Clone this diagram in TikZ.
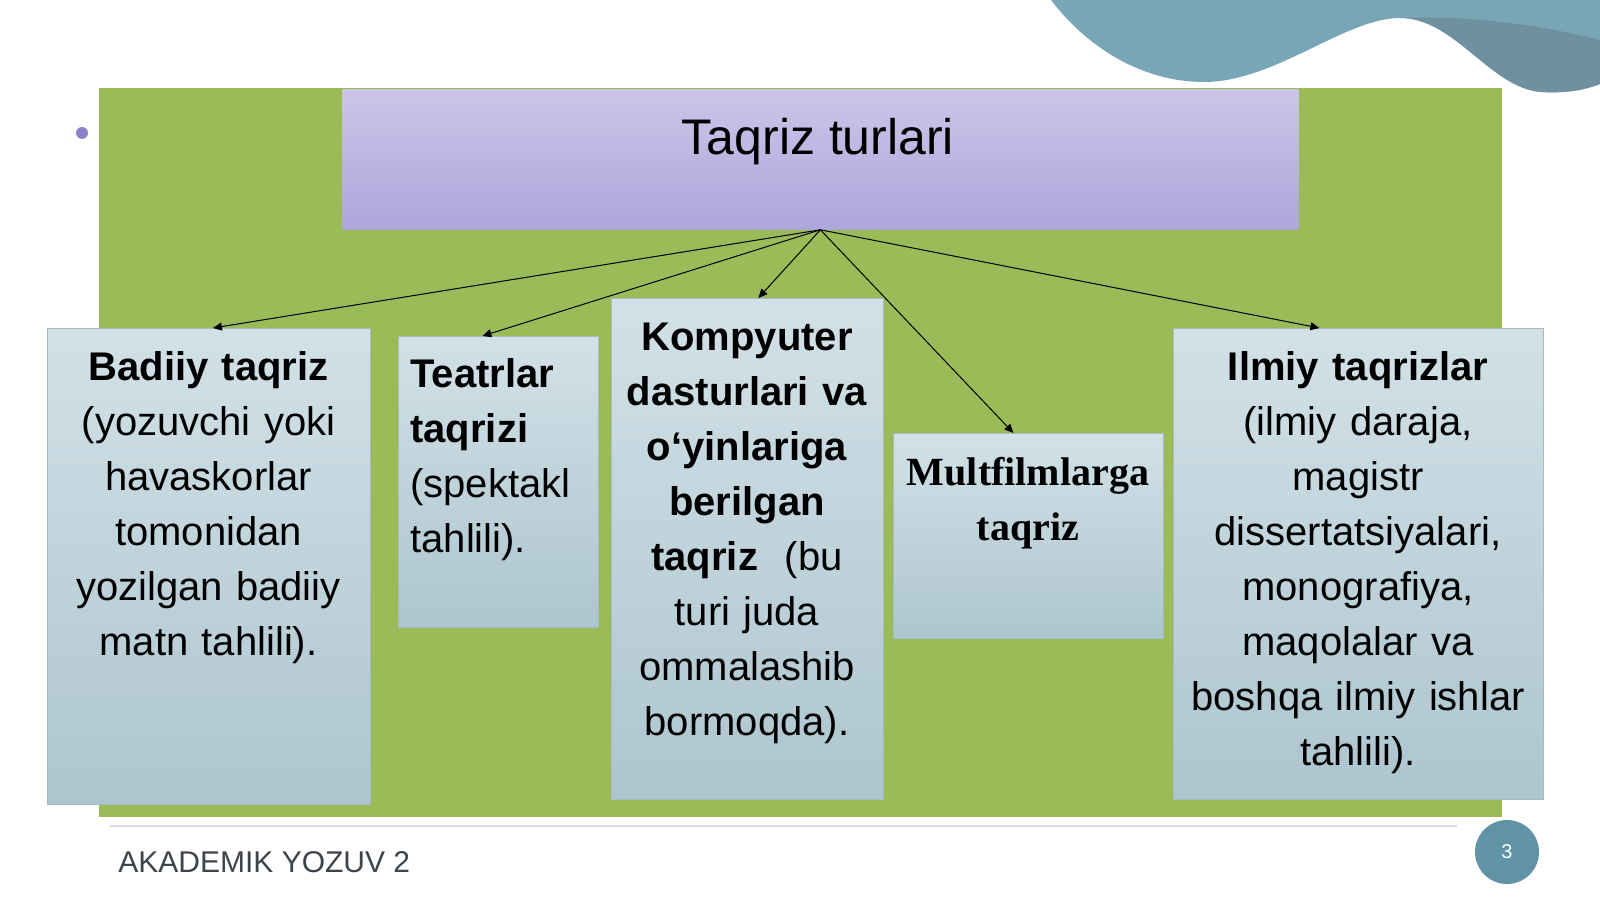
\documentclass[tikz,border=0pt]{standalone}
\usepackage{fontspec}
\setmainfont{Liberation Sans}
\newfontfamily\timesbf{Liberation Serif}[BoldFont={* Bold}]
\usetikzlibrary{arrows.meta}

\definecolor{slidegreen}{RGB}{155,187,89}
\definecolor{lavtop}{RGB}{204,197,232}
\definecolor{lavbot}{RGB}{172,166,220}
\definecolor{paletop}{RGB}{210,225,231}
\definecolor{palebot}{RGB}{173,197,207}
\definecolor{paleedge}{RGB}{165,186,195}
\definecolor{blobblue}{RGB}{120,166,182}
\definecolor{blobdark}{RGB}{108,137,150}
\definecolor{footgray}{RGB}{62,68,76}
\definecolor{bulletpurple}{RGB}{143,130,204}
\definecolor{pageblue}{RGB}{96,147,166}

\begin{document}
\begin{tikzpicture}[x=0.5pt,y=-0.5pt,
  titlebox/.style={rectangle, anchor=north west, inner sep=0pt, top color=lavtop, bottom color=lavbot},
  typebox/.style={rectangle, anchor=north west, inner sep=0pt, draw=paleedge, line width=0.4pt,
    top color=paletop, bottom color=palebot},
  typetext/.style={anchor=base, inner sep=0pt, align=center,
    font=\fontsize{20pt}{27.5pt}\selectfont},
  tipline/.style={-{Triangle[length=4.5pt,width=4pt]}, line width=0.5pt}]

\useasboundingbox (0,0) rectangle (1600,899);
\fill[white] (0,0) rectangle (1600,899);

% wave in the corner
\fill[blobblue] (1051,0) .. controls (1085,45) and (1140,82) .. (1204,82)
  .. controls (1275,82) and (1345,18) .. (1400,18)
  .. controls (1455,18) and (1490,88) .. (1541,92)
  .. controls (1570,94) and (1590,88) .. (1600,84) -- (1600,0) -- cycle;
\fill[blobdark, opacity=0.7] (1400,18) .. controls (1455,18) and (1490,88) .. (1541,92)
  .. controls (1570,94) and (1590,88) .. (1600,84) -- (1600,40)
  .. controls (1540,25) and (1470,15) .. (1400,18) -- cycle;

% background of the chart
\fill[slidegreen] (99,88) rectangle (1502,817);
\fill[bulletpurple] (82,133) circle (6);

% nodes
\node[titlebox, minimum width=478pt, minimum height=70pt] (title) at (342,89) {};
\node[anchor=base, inner sep=0pt, font=\fontsize{25pt}{30pt}\selectfont] (titletxt) at (818,155) {Taqriz turlari};

\node[typebox, minimum width=161.5pt, minimum height=238pt] (badiiy) at (47,328) {};
\node[typebox, minimum width=100pt, minimum height=145.5pt] (teatr) at (398,336) {};
\node[typebox, minimum width=136pt, minimum height=250.5pt] (kompyuter) at (611,298) {};
\node[typebox, minimum width=135pt, minimum height=102.5pt] (multfilm) at (893,433) {};
\node[typebox, minimum width=185pt, minimum height=235.5pt] (ilmiy) at (1173,328) {};

\node[typetext, text width=155pt] (badiiytxt) at (208.5,380)
  {\textbf{Badiiy taqriz}\\(yozuvchi yoki\\havaskorlar\\tomonidan\\yozilgan badiiy\\matn tahlili).};
\node[typetext, anchor=base west, align=left, text width=90pt] (teatrtxt) at (410,387)
  {\textbf{Teatrlar}\\\textbf{taqrizi}\\(spektakl\\tahlili).};
\node[typetext, text width=132pt] (kompyutertxt) at (747,350)
  {\textbf{Kompyuter}\\\textbf{dasturlari va}\\\textbf{o‘yinlariga}\\\textbf{berilgan}\\\textbf{taqriz}\ \ (bu\\turi juda\\ommalashib\\bormoqda).};
\node[typetext, text width=132pt, font=\fontsize{20pt}{27.5pt}\timesbf\bfseries] (multfilmtxt) at (1028,485)
  {Multfilmlarga\\taqriz};
\node[typetext, text width=182pt] (ilmiytxt) at (1358,380)
  {\textbf{Ilmiy taqrizlar}\\(ilmiy daraja,\\magistr\\dissertatsiyalari,\\monografiya,\\maqolalar va\\boshqa ilmiy ishlar\\tahlili).};

% arrows
\draw[tipline] (title.south) -- ([xshift=2pt]badiiy.north);
\draw[tipline] (title.south) -- ([xshift=-8pt]teatr.north);
\draw[tipline] (title.south) -- ([xshift=5.5pt]kompyuter.north);
\draw[tipline] (title.south) -- ([xshift=-7.5pt]multfilm.north);
\draw[tipline] (title.south) -- ([xshift=-19.5pt]ilmiy.north);

% footer
\draw[line width=1pt, color=black!15] (110,826) -- (1457,826);
\node[anchor=base west, inner sep=0pt, text=footgray, font=\fontsize{15pt}{18pt}\selectfont] (footer) at (118,872) {AKADEMIK YOZUV 2};
\node[circle, fill=pageblue, minimum size=32pt, inner sep=0pt, text=white,
  font=\fontsize{10pt}{12pt}\selectfont] (page) at (1507,852) {3};

\end{tikzpicture}
\end{document}
